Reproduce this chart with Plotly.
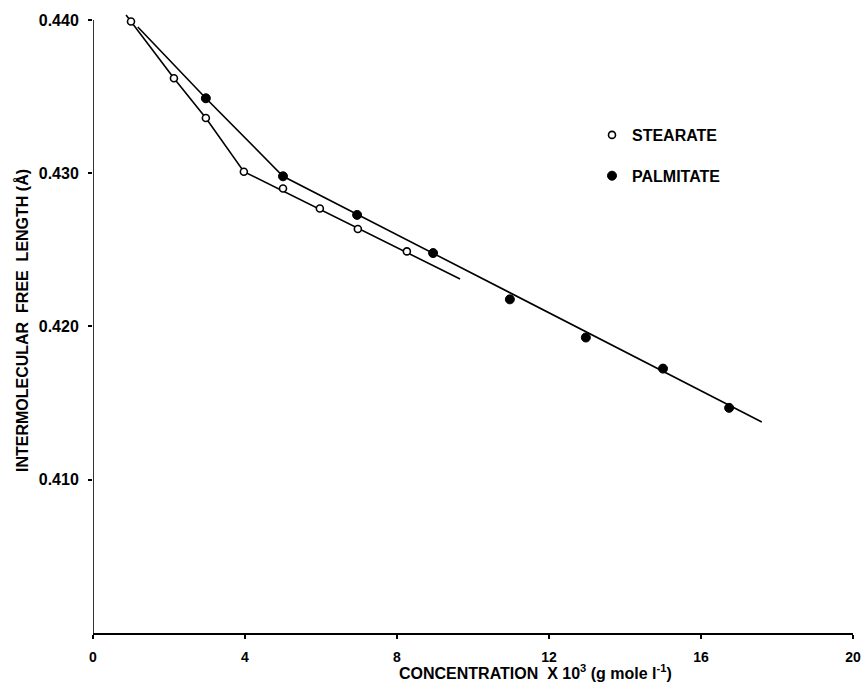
import plotly.graph_objects as go

# Data points
stearate_x = [1.0, 2.13, 2.97, 3.97, 5.0, 5.97, 6.97, 8.26]
stearate_y = [0.4399, 0.4362, 0.4336, 0.4301, 0.4290, 0.4277, 0.42636, 0.4249]

palmitate_x = [2.97, 5.0, 6.95, 8.95, 10.97, 12.97, 15.0, 16.74]
palmitate_y = [0.43489, 0.4298, 0.42728, 0.42479, 0.42177, 0.41928, 0.41725, 0.41469]

# Drawn (fitted) lines
stearate_line_x = [0.87, 2.13, 2.97, 3.97, 9.66]
stearate_line_y = [0.44033, 0.4362, 0.4336, 0.4301, 0.4231]
palmitate_line_x = [1.18, 2.97, 5.0, 17.6]
palmitate_line_y = [0.43954, 0.43489, 0.4298, 0.41377]

x_ticks = [0, 4, 8, 12, 16, 20]
y_ticks = [0.410, 0.420, 0.430, 0.440]
y_tick_labels = ["0.410", "0.420", "0.430", "0.440"]

FONT = "Liberation Sans"

fig = go.Figure()

fig.add_trace(go.Scatter(x=stearate_line_x, y=stearate_line_y, mode="lines",
                         line=dict(color="black", width=1.6), showlegend=False,
                         hoverinfo="skip"))
fig.add_trace(go.Scatter(x=palmitate_line_x, y=palmitate_line_y, mode="lines",
                         line=dict(color="black", width=1.6), showlegend=False,
                         hoverinfo="skip"))

fig.add_trace(go.Scatter(x=stearate_x, y=stearate_y, mode="markers", name="STEARATE",
                         legendgroup="s",
                         marker=dict(symbol="circle", size=7, color="white",
                                     line=dict(color="black", width=1.6)),
                         cliponaxis=False))
fig.add_trace(go.Scatter(x=palmitate_x, y=palmitate_y, mode="markers", name="PALMITATE",
                         legendgroup="p",
                         marker=dict(symbol="circle", size=9, color="black",
                                     line=dict(color="black", width=1)),
                         cliponaxis=False))

# y-axis line (from 0.400 to 0.440)
fig.add_shape(type="line", xref="x", yref="y", x0=0, x1=0, y0=0.400, y1=0.440,
              line=dict(color="black", width=1.6))

PL, PR, PT, PB = 93, 13, 8, 58
PW = 866 - PL - PR
PH = 691 - PT - PB

fig.add_annotation(
    text="CONCENTRATION  X 10<sup>3</sup> (g mole l<sup>-1</sup>)",
    xref="paper", yref="paper", x=(535 - PL) / PW, y=(633 - 672) / PH,
    showarrow=False, xanchor="center", yanchor="middle",
    font=dict(family=FONT, size=16, color="black", weight="bold"))

fig.update_layout(
    width=866, height=691,
    margin=dict(l=PL, r=PR, t=PT, b=PB),
    paper_bgcolor="white", plot_bgcolor="white",
    font=dict(family=FONT, size=13, color="black", weight="bold"),
    showlegend=True,
    legend=dict(x=(592 - PL) / PW, y=(633 - 118) / PH, xanchor="left", yanchor="top",
                bgcolor="rgba(0,0,0,0)", tracegroupgap=17,
                font=dict(family=FONT, size=16, color="black", weight="bold"),
                itemsizing="trace", itemwidth=30),
    xaxis=dict(range=[0, 20], tickvals=x_ticks, ticktext=[str(v) for v in x_ticks],
               showline=True, linecolor="black", linewidth=1.6,
               ticks="outside", ticklen=4, tickcolor="black", tickwidth=1.5,
               ticklabelstandoff=6, automargin=False,
               showgrid=False, zeroline=False, fixedrange=True,
               tickfont=dict(family=FONT, size=14, weight="bold")),
    yaxis=dict(range=[0.400, 0.44078], tickvals=y_ticks, ticktext=y_tick_labels,
               showline=False, ticks="outside", ticklen=4, tickcolor="black", tickwidth=1.5,
               ticklabelstandoff=6, automargin=False,
               showgrid=False, zeroline=False, fixedrange=True,
               tickfont=dict(family=FONT, size=16, weight="bold"),
               title=dict(text="INTERMOLECULAR  FREE  LENGTH (Å)", standoff=6,
                          font=dict(family=FONT, size=16, weight="bold"))),
)

fig.write_html("out.html")
